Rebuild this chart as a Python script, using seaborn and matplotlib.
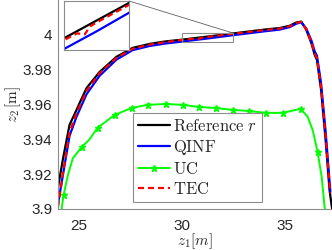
import numpy as np
import pandas as pd
import matplotlib
matplotlib.use("Agg")
import matplotlib.pyplot as plt
import seaborn as sns
from matplotlib.patches import Rectangle, ConnectionPatch

# reference trajectory r (z1, z2)
ref_x = [24.0, 24.26, 24.56, 24.90, 25.05, 25.39, 26.02, 26.84, 27.62, 28.45, 29.2, 30.0, 31.25,
         32.5, 34.08, 34.76, 35.24, 35.57, 35.81, 36.05, 36.30, 36.46, 36.57, 36.77, 36.99, 37.18,
         37.28, 37.33]
ref_y = [3.9125, 3.930, 3.9483, 3.9569, 3.9609, 3.9695, 3.9787, 3.9874, 3.9925, 3.9948, 3.9962,
         3.9972, 3.9990, 4.0008, 4.0031, 4.0039, 4.0052, 4.0071, 4.0076, 4.0029, 3.9952, 3.9885,
         3.9856, 3.9684, 3.9397, 3.9109, 3.9023, 3.8983]

# QINF
qinf_x = [24.0, 24.26, 24.56, 24.90, 25.05, 25.39, 26.02, 26.84, 27.62, 28.45, 29.2, 30.0, 31.25,
          32.5, 34.08, 34.76, 35.24, 35.57, 35.81, 36.05, 36.30, 36.46, 36.57, 36.77, 36.99, 37.18,
          37.22]
qinf_y = [3.903, 3.921, 3.942, 3.953, 3.957, 3.966, 3.9765, 3.9858, 3.9912, 3.9936, 3.9950,
          3.9961, 3.9979, 3.9998, 4.0021, 4.0030, 4.0044, 4.0064, 4.0072, 4.0036, 3.9968, 3.9905,
          3.9880, 3.9722, 3.9445, 3.9160, 3.9100]

# UC
uc_x = [24.15, 24.27, 24.48, 24.72, 25.15, 25.51, 25.92, 26.75, 27.57, 28.35, 29.22, 30.05, 30.83,
        31.65, 32.48, 33.25, 34.08, 34.90, 35.78, 36.12, 36.36, 36.60, 36.80, 36.94, 36.99]
uc_y = [3.898, 3.908, 3.9195, 3.9291, 3.9356, 3.9397, 3.9466, 3.954, 3.958, 3.9598, 3.9603, 3.9598,
        3.9586, 3.958, 3.9569, 3.9563, 3.9552, 3.9552, 3.9575, 3.9529, 3.9454, 3.9328, 3.9184,
        3.9011, 3.8983]
uc_marks = [1, 4, 6, 7, 8, 9, 10, 11, 12, 13, 14, 15, 16, 17, 18, 21]

# TEC
tec_x = [24.0, 24.26, 24.56, 24.90, 25.05, 25.39, 26.02, 26.84, 27.62, 28.45, 29.2, 30.0, 30.5,
         30.8, 31.0, 31.25, 32.5, 34.08, 34.76, 35.24, 35.57, 35.81, 36.05, 36.30, 36.46, 36.57,
         36.77, 36.99, 37.18, 37.22]
tec_y = [3.901, 3.922, 3.944, 3.955, 3.959, 3.968, 3.9780, 3.9868, 3.9920, 3.9944, 3.9958,
         3.9970, 3.9977, 3.9976, 3.9984, 3.9988, 4.0006, 4.0028, 4.0036, 4.0049, 4.0068, 4.0074,
         4.0031, 3.9958, 3.9893, 3.9866, 3.9700, 3.9420, 3.9135, 3.9090]

xticks = [25, 30, 35]
yticks = [3.9, 3.92, 3.94, 3.96, 3.98, 4.0]
ytick_labels = ["3.9", "3.92", "3.94", "3.96", "3.98", "4"]

ref = pd.DataFrame({"z1": ref_x, "z2": ref_y})
qinf = pd.DataFrame({"z1": qinf_x, "z2": qinf_y})
uc = pd.DataFrame({"z1": uc_x, "z2": uc_y})
tec = pd.DataFrame({"z1": tec_x, "z2": tec_y})

sns.set_style("white")
plt.rcParams["font.family"] = ["Liberation Sans", "DejaVu Sans"]
plt.rcParams["mathtext.fontset"] = "cm"

fig = plt.figure(figsize=(3.32, 2.5), dpi=100)
ax = fig.add_axes([58 / 332, 41 / 250, 274 / 332, 209 / 250])

lw = 1.6
dash = (0, (2.7, 1.8))


def draw(a, with_labels):
    sns.lineplot(data=ref, x="z1", y="z2", ax=a, color="black", lw=lw, sort=False,
                 estimator=None, label=r"$\mathrm{Reference}\ r$" if with_labels else None)
    sns.lineplot(data=qinf, x="z1", y="z2", ax=a, color="#0000ff", lw=lw, sort=False,
                 estimator=None, label=r"$\mathrm{QINF}$" if with_labels else None)
    # UC line with asterisk markers on a subset of samples
    a.plot(uc["z1"], uc["z2"], color="#00ff00", lw=1.4, linestyle="-", marker="*",
           markersize=5, markeredgewidth=1, markevery=uc_marks,
           label=r"$\mathrm{UC}$" if with_labels else None)
    sns.lineplot(data=tec, x="z1", y="z2", ax=a, color="#ff0000", lw=lw, sort=False,
                 estimator=None, linestyle=dash, label=r"$\mathrm{TEC}$" if with_labels else None)


draw(ax, True)

ax.set_xlim(24.0, 37.3)
ax.set_ylim(3.9, 4.02)
ax.set_xticks(xticks)
ax.set_xticklabels([str(t) for t in xticks])
ax.set_yticks(yticks)
ax.set_yticklabels(ytick_labels)
ax.tick_params(direction="in", length=2.5, width=0.6, color="#808080",
               labelcolor="#262626", labelsize=11)
ax.tick_params(axis="x", pad=7)
ax.tick_params(axis="y", pad=4)
for s in ["top", "right"]:
    ax.spines[s].set_visible(False)
for s in ["left", "bottom"]:
    ax.spines[s].set_color("#8c8c8c")
    ax.spines[s].set_linewidth(0.8)

ax.set_xlabel(r"$z_1[m]$", fontsize=11, color="#262626", labelpad=-1)
ax.set_ylabel(r"$z_2\,[\mathrm{m}]$", fontsize=11, color="#262626", labelpad=0)

leg = ax.legend(loc="lower left", bbox_to_anchor=(0.274, 0.033), fontsize=12,
                frameon=True, fancybox=False, framealpha=1, edgecolor="#8c8c8c",
                handlelength=1.9, handletextpad=0.2, labelspacing=0.25, borderpad=0.3,
                borderaxespad=0)
leg.get_frame().set_linewidth(0.8)

# zoom box and inset
zx0, zx1, zy0, zy1 = 30.0, 32.5, 3.996, 4.001
ax.add_patch(Rectangle((zx0, zy0), zx1 - zx0, zy1 - zy0, fill=False,
                       edgecolor="#8c8c8c", lw=0.8, zorder=5))

axin = fig.add_axes([64 / 332, 200 / 250, 65 / 332, 49 / 250])
draw(axin, False)
axin.set_xlim(zx0, zx1)
axin.set_ylim(zy0, zy1)
axin.set_xticks([])
axin.set_yticks([])
axin.set_xlabel("")
axin.set_ylabel("")
for s in axin.spines.values():
    s.set_visible(True)
    s.set_color("#8c8c8c")
    s.set_linewidth(0.8)

con = ConnectionPatch(xyA=(1, 1), coordsA=axin.transAxes, xyB=(zx1, zy1), coordsB=ax.transData,
                      color="#606060", lw=0.6)
fig.add_artist(con)

fig.savefig("out.png", dpi=100)
